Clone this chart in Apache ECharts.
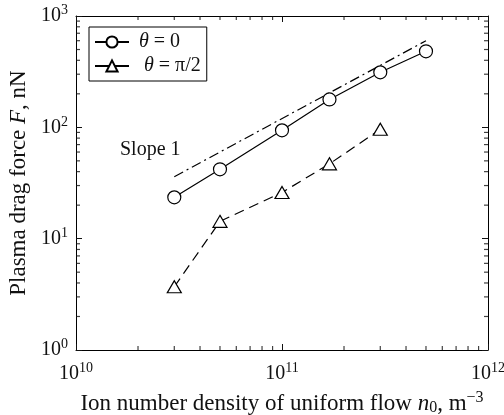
<!DOCTYPE html>
<html><head><meta charset="utf-8">
<script src="https://cdn.jsdelivr.net/npm/echarts@6/dist/echarts.min.js"></script>
<style>html,body{margin:0;padding:0;background:#fff}#c{width:504px;height:415px}</style>
</head><body><div id="c"></div>
<script>
const densityTheta0 = [3e10, 5e10, 1e11, 1.7e11, 3e11, 5e11];
const forceTheta0 = [23.5, 42, 94, 178, 312, 482];
const densityThetaPi2 = [3e10, 5e10, 1e11, 1.7e11, 3e11];
const forceThetaPi2 = [3.7, 14.3, 26, 47, 96];
const slopeX = [3e10, 5e11];
const slopeY = [36, 600];
const xRange = [1e10, 1e12];
const yRange = [1, 1000];
const seriesNames = ['θ = 0', 'θ = π/2'];

const FONT = 'Liberation Serif';
const TICK = '#111';
const zip = (a, b) => a.map((v, i) => [v, b[i]]);
const chart = echarts.init(document.getElementById('c'));

function minorTicks(range) {
  const out = [];
  for (let e = Math.round(Math.log10(range[0])); e < Math.round(Math.log10(range[1])); e++) {
    for (let m = 2; m <= 9; m++) out.push(m * Math.pow(10, e));
  }
  return out;
}
const xMinor = minorTicks(xRange);
const yMinor = minorTicks(yRange);

const supLabel = v => '{b|10}{s|' + Math.round(Math.log10(v)) + '}';
const labelRich = {
  b: {fontFamily: FONT, fontSize: 20, color: '#111'},
  s: {fontFamily: FONT, fontSize: 14, color: '#111', padding: [0, 0, 11, 0]}
};
const majorTick = {show: true, inside: true, length: 6, lineStyle: {color: TICK, width: 1}};
const blackLine = {show: true, onZero: false, lineStyle: {color: '#000', width: 1}};

function tickSeries(data, size, offset) {
  return {type: 'scatter', data: data, symbol: 'rect', symbolSize: size, symbolOffset: offset,
    itemStyle: {color: TICK}, silent: true, emphasis: {disabled: true}, z: 4, clip: false,
    xAxisIndex: 0, yAxisIndex: 0};
}

chart.setOption({
  animation: false,
  backgroundColor: '#fff',
  grid: {left: 76, right: 16, top: 16, bottom: 65, outerBoundsMode: 'none'},
  legend: {
    left: 89, top: 27, orient: 'vertical', data: seriesNames,
    backgroundColor: '#fff', borderColor: '#000', borderWidth: 1,
    padding: [5, 6, 5, 5], itemGap: 4, itemWidth: 34, itemHeight: 14,
    lineStyle: {type: 'solid'},
    formatter: n => n === seriesNames[0] ? ' {i|θ} = 0' : '  {i|θ} = π/2',
    textStyle: {fontFamily: FONT, fontSize: 20, color: '#111',
      rich: {i: {fontFamily: FONT, fontStyle: 'italic', fontSize: 20, color: '#111'}}}
  },
  xAxis: [{
    type: 'log', logBase: 10, min: xRange[0], max: xRange[1], position: 'bottom',
    axisLine: blackLine, axisTick: majorTick,
    splitLine: {show: false}, minorTick: {show: false},
    axisLabel: {formatter: supLabel, rich: labelRich, margin: 11},
    name: 'Ion number density of uniform flow {i|n}{sub|0}, m{sup|−3}',
    nameLocation: 'middle', nameGap: 40,
    nameTextStyle: {fontFamily: FONT, fontSize: 23, color: '#111', rich: {
      i: {fontFamily: FONT, fontSize: 23, fontStyle: 'italic', color: '#111'},
      sub: {fontFamily: FONT, fontSize: 16, color: '#111', padding: [8, 0, 0, 0]},
      sup: {fontFamily: FONT, fontSize: 16, color: '#111', padding: [0, 0, 12, 0]}
    }}
  }, {
    type: 'log', logBase: 10, min: xRange[0], max: xRange[1], position: 'top',
    axisLine: blackLine, axisTick: majorTick, axisLabel: {show: false},
    splitLine: {show: false}, minorTick: {show: false}
  }],
  yAxis: [{
    type: 'log', logBase: 10, min: yRange[0], max: yRange[1], position: 'left',
    axisLine: blackLine, axisTick: majorTick,
    splitLine: {show: false}, minorTick: {show: false},
    axisLabel: {formatter: supLabel, rich: labelRich, margin: 8},
    name: 'Plasma drag force {i|F}, nN',
    nameLocation: 'middle', nameGap: 41,
    nameTextStyle: {fontFamily: FONT, fontSize: 23, color: '#111', rich: {
      i: {fontFamily: FONT, fontSize: 23, fontStyle: 'italic', color: '#111'}
    }}
  }, {
    type: 'log', logBase: 10, min: yRange[0], max: yRange[1], position: 'right',
    axisLine: blackLine, axisTick: majorTick, axisLabel: {show: false},
    splitLine: {show: false}, minorTick: {show: false}
  }],
  graphic: [{type: 'text', left: 120, top: 140, z: 5,
    style: {text: 'Slope 1', fontFamily: FONT, fontSize: 20, fill: '#111'}}],
  series: [
    tickSeries(xMinor.map(v => [v, yRange[0]]), [1.2, 4], [0, -2]),
    tickSeries(xMinor.map(v => [v, yRange[1]]), [1.2, 4], [0, 2]),
    tickSeries(yMinor.map(v => [xRange[0], v]), [4, 1.2], [2, 0]),
    tickSeries(yMinor.map(v => [xRange[1], v]), [4, 1.2], [-2, 0]),
    {name: 'slope', type: 'line', data: zip(slopeX, slopeY), showSymbol: false, symbol: 'none',
      lineStyle: {color: '#000', width: 1.2, type: [10, 4, 2, 4]}, z: 2},
    {name: seriesNames[0], type: 'line', data: zip(densityTheta0, forceTheta0),
      symbol: 'circle', symbolSize: 13,
      itemStyle: {color: '#fff', borderColor: '#000', borderWidth: 1.2},
      lineStyle: {color: '#000', width: 1.2}, z: 3},
    {name: seriesNames[1], type: 'line', data: zip(densityThetaPi2, forceThetaPi2),
      symbol: 'triangle', symbolSize: [14, 12],
      itemStyle: {color: '#fff', borderColor: '#000', borderWidth: 1.2},
      lineStyle: {color: '#000', width: 1.2, type: [10, 6]}, z: 3}
  ]
});
</script></body></html>
